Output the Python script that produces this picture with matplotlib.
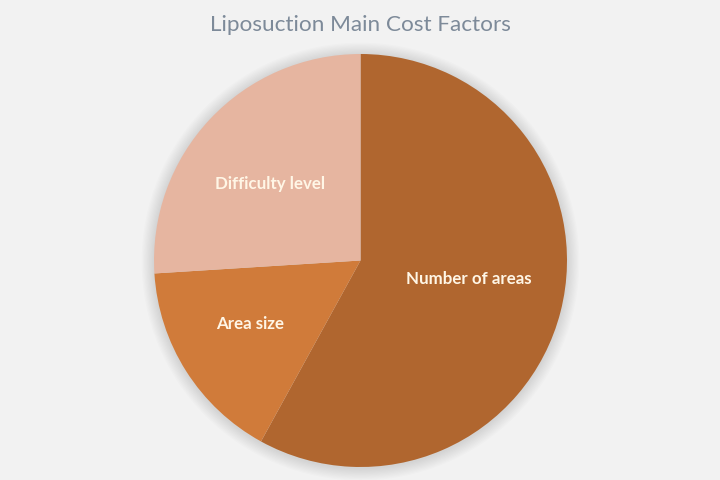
import matplotlib.pyplot as plt
from matplotlib.patches import Circle

# slice data (percent)
factors = ['Number of areas', 'Area size', 'Difficulty level']
shares = [58, 16, 26]
colors = ['#B0662F', '#D07B3A', '#E6B5A0']

bg = '#F2F2F2'

fig = plt.figure(figsize=(7.2, 4.81), dpi=100, facecolor=bg)

# pie centre (360.5, 261.5) px, radius 206.5 px
cx, cy, r = 360.5, 261.5, 206.5
W, H = 720, 481
ax = fig.add_axes([(cx - r) / W, (H - cy - r) / H, 2 * r / W, 2 * r / H])
ax.set_facecolor(bg)

# soft shadow round the pie
for i in range(10):
    ax.add_patch(Circle((0, -0.005), 1 + 0.006 * (i + 1), color='#000000',
                        alpha=0.012, lw=0, zorder=0, clip_on=False))

wedges, texts = ax.pie(shares, labels=factors, colors=colors, startangle=90,
                       counterclock=False, radius=1, labeldistance=0.58,
                       wedgeprops=dict(linewidth=0),
                       textprops=dict(color='#FFF6E6', fontsize=12.2,
                                      fontweight='bold', family='Lato'))

# label placement like the original (in pie radii)
label_pos = {'Number of areas': (0.524, -0.085),
             'Area size': (-0.533, -0.303),
             'Difficulty level': (-0.44, 0.375)}
for t in texts:
    t.set_position(label_pos[t.get_text()])
    t.set_horizontalalignment('center')
    t.set_verticalalignment('center')

ax.set_xlim(-1, 1)
ax.set_ylim(-1, 1)
ax.set_aspect('equal')
ax.axis('off')

fig.text(0.5, 1 - 25 / H, 'Liposuction Main Cost Factors', ha='center',
         va='center', fontsize=16.2, color='#7D8A99', family='Lato')

fig.savefig('out.png', dpi=100, facecolor=bg)
